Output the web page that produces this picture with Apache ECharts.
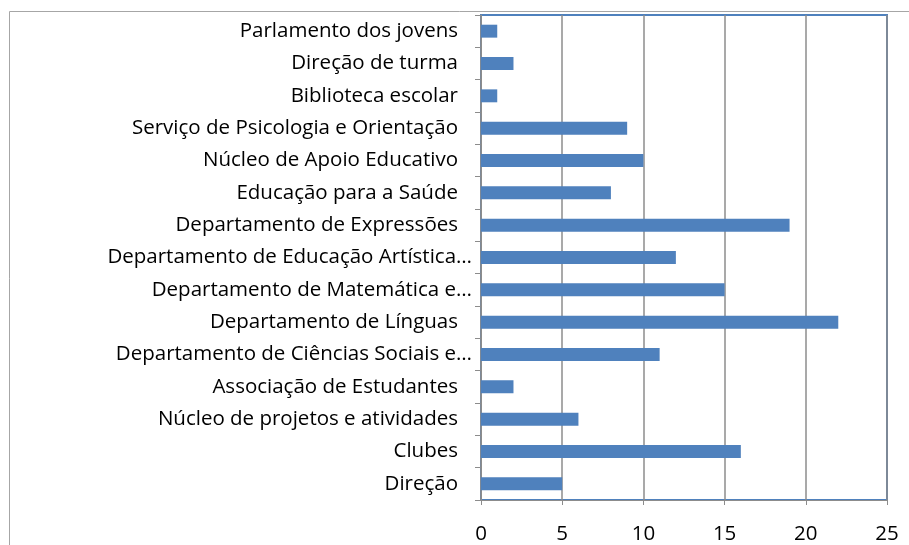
<!DOCTYPE html>
<html><head><meta charset="utf-8">
<script src="https://cdn.jsdelivr.net/npm/echarts@6/dist/echarts.min.js"></script>
<style>html,body{margin:0;padding:0;background:#fff}#c{width:909px;height:545px}</style>
</head><body><div id="c"></div>
<script>
const categories = [
  "Parlamento dos jovens",
  "Direção de turma",
  "Biblioteca escolar",
  "Serviço de Psicologia e Orientação",
  "Núcleo de Apoio Educativo",
  "Educação para a Saúde",
  "Departamento de Expressões",
  "Departamento de Educação Artística…",
  "Departamento de Matemática e…",
  "Departamento de Línguas",
  "Departamento de Ciências Sociais e…",
  "Associação de Estudantes",
  "Núcleo de projetos e atividades",
  "Clubes",
  "Direção"
];
const values = [1, 2, 1, 9, 10, 8, 19, 12, 15, 22, 11, 2, 6, 16, 5];
const xTicks = [0, 5, 10, 15, 20, 25];

const FONT = "'Open Sans', sans-serif";
const chart = echarts.init(document.getElementById('c'), null, {renderer: 'canvas'});
chart.setOption({
  animation: false,
  graphic: [{
    type: 'rect', z: -10,
    shape: {x: 9.5, y: 11.5, width: 2000, height: 2000},
    style: {fill: 'none', stroke: '#a6a6a6', lineWidth: 1}
  }],
  grid: {left: 481, right: 22, top: 15, bottom: 44, show: true,
         borderColor: '#4F81BD', borderWidth: 2, backgroundColor: 'transparent'},
  xAxis: {
    type: 'value', min: xTicks[0], max: xTicks[xTicks.length - 1], interval: 5,
    axisLine: {show: true, lineStyle: {color: '#8c8c8c', width: 1}},
    axisTick: {show: true, length: 5, lineStyle: {color: '#8c8c8c'}},
    splitLine: {show: true, lineStyle: {color: '#8c8c8c', width: 1.5}},
    axisLabel: {fontFamily: FONT, fontSize: 20.5, color: '#000', margin: 24}
  },
  yAxis: {
    type: 'category', data: categories, inverse: true,
    axisLine: {show: true, lineStyle: {color: '#8c8c8c', width: 1}},
    axisTick: {show: true, length: 6, lineStyle: {color: '#8c8c8c'}},
    axisLabel: {
      fontFamily: FONT, fontSize: 20.5, color: '#000', margin: 9,
      formatter: function (v) { return v.endsWith('…') ? v : v + '{s|}'; },
      rich: {s: {width: 14}}
    }
  },
  series: [{
    type: 'bar', data: values, barWidth: '40%',
    itemStyle: {color: '#4F81BD'}
  }]
});
</script></body></html>
